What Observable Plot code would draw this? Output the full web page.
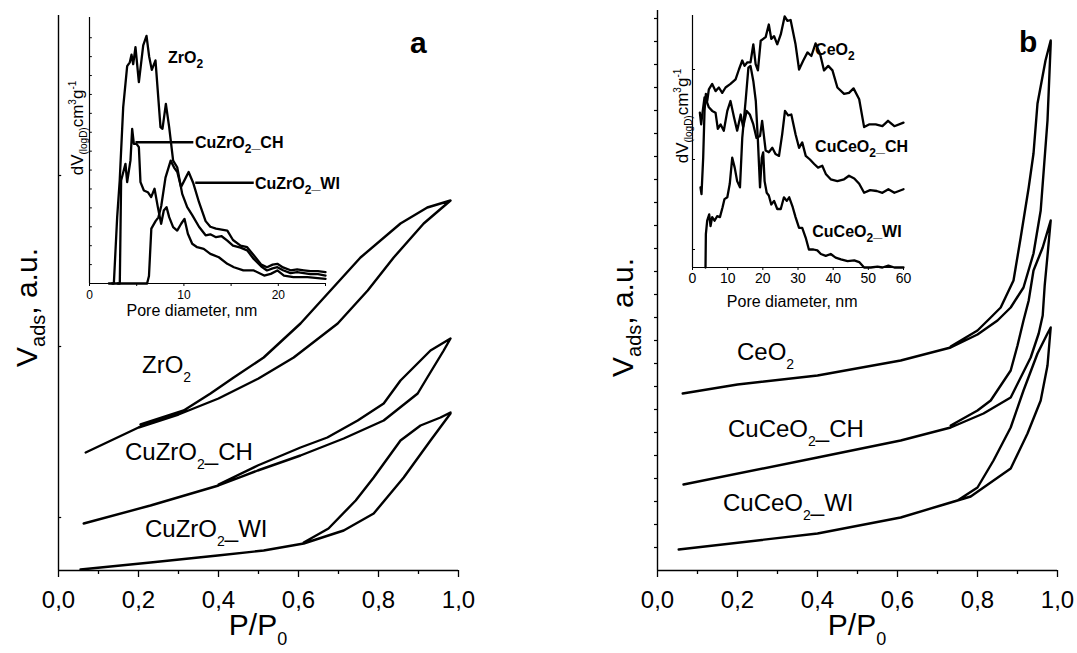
<!DOCTYPE html>
<html><head><meta charset="utf-8">
<script src="https://cdn.jsdelivr.net/npm/d3@7"></script>
<script src="https://cdn.jsdelivr.net/npm/@observablehq/plot@0.6"></script>
<style>
body{margin:0;background:#fff;}
#root{position:relative;width:1077px;height:653px;overflow:hidden;background:#fff;}
</style></head><body><div id="root"></div>
<script>
const FONT = '"Liberation Sans", Arial, Helvetica, sans-serif';

// ---------------- Panel a: N2 isotherms, [P/P0, V (a.u.)] ----------------
const zro2Adsorption = [[0.068,118],[0.2,143],[0.3,156],[0.4,172],[0.5,192],[0.588,213],[0.698,247],[0.773,280],[0.838,313],[0.913,347],[0.98,370]];
const zro2Desorption = [[0.98,370],[0.922,363],[0.855,347],[0.755,313],[0.68,280],[0.605,247],[0.513,213],[0.438,193],[0.38,177],[0.313,160],[0.205,146]];
const cuZrCHAdsorption = [[0.063,47],[0.23,65],[0.4,85],[0.498,100],[0.605,115],[0.713,132],[0.813,150],[0.898,177],[0.922,193],[0.963,220],[0.98,232]];
const cuZrCHDesorption = [[0.98,232],[0.93,220],[0.88,200],[0.855,190],[0.813,167],[0.748,150],[0.672,133],[0.605,123],[0.498,105],[0.4,86]];
const cuZrWIAdsorption = [[0.055,1],[0.23,8],[0.398,15],[0.513,20],[0.613,27],[0.713,40],[0.788,57],[0.863,93],[0.93,130],[0.98,157]];
const cuZrWIDesorption = [[0.98,158],[0.955,153],[0.905,145],[0.855,130],[0.788,93],[0.743,70],[0.675,42],[0.613,28]];

// ---------------- Panel b: N2 isotherms ----------------
const ceo2Adsorption = [[0.063,177],[0.2,186],[0.4,195],[0.608,210],[0.733,223],[0.8,236],[0.85,250],[0.883,263],[0.915,283],[0.94,317],[0.958,360],[0.975,450],[0.983,527]];
const ceo2Desorption = [[0.983,530],[0.97,510],[0.95,467],[0.94,417],[0.928,383],[0.908,333],[0.89,290],[0.858,263],[0.833,253],[0.8,240],[0.733,224]];
const cuCeCHAdsorption = [[0.065,86],[0.4,113],[0.608,130],[0.733,143],[0.815,157],[0.883,173],[0.933,213],[0.953,237],[0.963,255],[0.968,285],[0.975,315],[0.983,350]];
const cuCeCHDesorption = [[0.983,350],[0.963,323],[0.94,300],[0.928,270],[0.915,250],[0.9,225],[0.883,200],[0.833,170],[0.8,160],[0.733,145]];
const cuCeWIAdsorption = [[0.053,21],[0.4,37],[0.608,53],[0.708,65],[0.783,74],[0.883,102],[0.925,137],[0.958,170],[0.975,205],[0.983,243]];
const cuCeWIDesorption = [[0.983,243],[0.975,237],[0.95,217],[0.915,180],[0.883,143],[0.84,110],[0.8,83],[0.75,70],[0.708,65]];

// ---------------- Inset a: pore size distributions [D nm, dV(logD)] ----------------
const zro2Psd = [[2.05,0],[2.58,0],[2.93,3.5],[3.2,5.45],[3.57,9.33],[3.99,11.5],[4.27,11.7],[4.45,12.1],[4.63,11.6],[4.87,12.5],[5.23,10.65],[5.69,12.6],[6.04,13.1],[6.32,12.0],[6.6,11.3],[6.99,11.8],[7.52,8.27],[7.73,8.18],[8.09,9.5],[8.44,8.27],[8.86,6.5],[9.29,6.15],[9.82,4.74],[10.35,4.04],[10.9,3.6],[11.6,3.0],[12.3,2.55],[12.8,2.6],[13.4,2.45],[14.0,2.5],[14.6,2.27],[15.2,2.0],[16.0,1.9],[16.7,1.75],[17.4,1.3],[18.2,0.9],[18.8,0.69],[19.4,0.8],[19.9,0.86],[20.5,0.7],[21.3,0.55],[22.0,0.6],[22.7,0.55],[23.4,0.5],[24.2,0.5],[25,0.42]];
const cuZrCHPsd = [[3.0,0],[3.21,0],[3.35,5.45],[3.81,6.33],[3.99,5.36],[4.34,6.51],[4.52,8.18],[4.7,7.39],[4.98,7.39],[5.23,7.21],[5.4,5.36],[5.76,4.92],[6.18,4.83],[6.53,4.57],[6.89,5.01],[7.24,4.04],[7.59,3.16],[7.87,3.86],[8.16,4.04],[8.44,3.51],[8.86,2.98],[9.29,2.8],[9.71,3.16],[10.06,3.42],[10.42,2.63],[10.88,2.1],[11.4,1.92],[12.1,1.83],[12.8,1.57],[13.7,1.39],[14.6,1.04],[15.3,0.86],[16.3,0.69],[17.4,0.69],[18.5,0.42],[19.2,0.51],[19.9,0.69],[20.6,0.42],[21.6,0.34],[23.1,0.34],[25,0.25]];
const cuZrWIPsd = [[2.4,0],[6.1,0],[6.3,0.4],[6.55,2.9],[7.0,3.3],[7.3,3.5],[7.6,4.1],[8.05,5.6],[8.6,6.5],[9.0,6.1],[9.3,5.9],[9.7,5.1],[10.2,5.6],[10.5,5.9],[11.0,5.3],[11.6,4.3],[12.3,3.3],[12.8,3.0],[13.4,2.9],[14.0,2.85],[14.6,2.8],[15.2,2.3],[16.0,2.0],[16.7,1.92],[17.4,1.5],[18.2,1.0],[18.8,0.86],[19.4,1.0],[19.9,1.04],[20.5,0.85],[21.3,0.7],[22.0,0.75],[22.7,0.7],[23.4,0.65],[24.2,0.65],[25,0.6]];
const insetAPointers = [{series:"CH", d:[4.87,11.0], v:7.47},{series:"WI", d:[11.2,17.4], v:5.33}];

// ---------------- Inset b: pore size distributions ----------------
const ceo2Psd = [[2.28,8.89],[2.56,8.15],[3.04,12.2],[3.42,17.4],[3.8,19.3],[4.18,18.5],[4.65,19.8],[5.6,20.4],[6.55,19.6],[7.5,20.0],[8.45,19.4],[9.4,20.0],[10.8,20.4],[12.25,20.9],[13.2,22.0],[14.15,23.0],[14.8,22.4],[15.6,22.8],[16.5,22.8],[17.3,24.8],[17.95,22.6],[18.6,21.9],[19.4,25.2],[20.8,25.6],[21.7,27.0],[22.4,25.4],[23.2,25.7],[24.1,24.8],[25.1,25.9],[26.2,27.9],[27.0,27.4],[27.9,27.5],[29.3,24.8],[30.3,22.0],[31.5,23.0],[32.7,23.9],[33.8,23.5],[35.0,24.9],[36.3,23.7],[37.4,21.9],[38.6,22.4],[39.8,21.9],[41.2,20.0],[43.1,19.3],[44.5,19.4],[45.8,19.9],[47.4,18.7],[48.8,15.6],[50.2,15.9],[52.1,15.9],[54.0,15.7],[55.6,16.3],[57.4,15.7],[60.0,16.1]];
const cuCeCHPsd = [[2.09,17.2],[2.47,15.9],[2.85,17.2],[3.42,18.9],[3.99,18.5],[4.65,17.8],[5.6,17.4],[6.55,17.2],[7.2,15.4],[8.0,15.9],[8.9,15.2],[9.9,17.4],[10.8,18.5],[11.8,16.7],[12.7,15.2],[13.7,17.0],[14.4,15.6],[15.4,17.4],[16.3,17.0],[17.3,15.9],[18.2,14.4],[19.2,14.6],[19.8,16.3],[20.8,13.0],[21.7,12.8],[22.7,13.3],[23.6,12.6],[24.6,12.4],[25.5,14.8],[26.3,17.4],[27.2,16.9],[28.1,17.0],[29.3,14.8],[30.3,13.3],[31.2,13.9],[32.2,12.4],[33.4,12.0],[34.6,11.5],[35.7,11.1],[36.9,11.3],[37.9,10.4],[39.3,9.8],[41.2,9.6],[43.1,9.8],[44.5,10.2],[46.0,9.9],[47.4,9.3],[48.8,8.3],[50.5,8.6],[52.4,8.5],[54.0,8.3],[55.7,8.7],[57.4,8.3],[60.0,8.7]];
const cuCeWIPsd = [[3.7,0],[3.8,3.7],[4.18,5.2],[4.75,5.9],[5.13,4.6],[5.6,5.6],[6.27,5.2],[7.0,5.7],[7.8,5.6],[8.55,6.7],[9.1,7.6],[9.9,7.8],[10.6,9.3],[11.3,12.2],[12.0,11.1],[12.7,9.6],[13.5,8.9],[14.15,14.4],[15.1,18.5],[15.9,22.2],[16.5,22.4],[17.3,20.7],[18.0,18.5],[18.6,14.1],[19.2,8.9],[19.7,12.2],[20.1,12.8],[20.5,9.6],[21.1,8.3],[21.7,8.0],[22.4,7.0],[23.2,7.4],[24.1,6.5],[25.1,6.5],[26.0,7.8],[26.8,7.4],[27.5,7.8],[28.5,6.7],[29.3,5.6],[30.3,4.4],[31.2,4.4],[32.2,3.3],[33.1,2.0],[34.4,2.0],[35.5,1.9],[36.5,1.5],[37.9,1.3],[39.3,1.5],[40.7,1.1],[42.2,0.9],[44.1,0.7],[46.0,0.8],[47.4,0.6],[48.8,0],[50.7,0],[52.6,0.1],[54.0,0],[55.7,0.2],[57.4,0],[60.0,0]];

// ---------------- ticks ----------------
const pressureTicks = [0, 0.2, 0.4, 0.6, 0.8, 1.0];
const pressureMinorTicks = [0.1, 0.3, 0.5, 0.7, 0.9];
const panelAVolumeTicks = [53, 224, 395];
const panelBVolumeTicks = [23,46,69,92,115,138,161,184,207,230,253,276,299,322,345,368,391,414,437,460,483,506,529,552];
const poreTicksA = [0, 10, 20];
const poreMinorTicksA = [5, 15, 25];
const poreTicksB = [0, 10, 20, 30, 40, 50, 60];
const psdTicksA = [1,2,3,4,5,6,7,8,9,10,11,12,13];
const psdTicksB = [2, 12, 22];

// ---------------- labels (anchored in data coordinates) ----------------
const panelALabels = [
  {x:0.21, y:197, parts:["ZrO",["2","sub"]]},
  {x:0.1675, y:110, parts:["CuZrO",["2","sub"],"_CH"]},
  {x:0.2175, y:33, parts:["CuZrO",["2","sub"],"_WI"]}
];
const panelBLabels = [
  {x:0.2, y:210, parts:["CeO",["2","sub"]]},
  {x:0.1775, y:133, parts:["CuCeO",["2","sub"],"_CH"]},
  {x:0.165, y:59, parts:["CuCeO",["2","sub"],"_WI"]}
];
const insetALabels = [
  {x:8.37, y:11.64, parts:["ZrO",["2","sub"]]},
  {x:11.23, y:7.14, parts:["CuZrO",["2","sub"],"_CH"]},
  {x:17.58, y:4.97, parts:["CuZrO",["2","sub"],"_WI"]}
];
const insetBLabels = [
  {x:35.0, y:23.6, parts:["CeO",["2","sub"]]},
  {x:35.0, y:12.8, parts:["CuCeO",["2","sub"],"_CH"]},
  {x:34.2, y:3.33, parts:["CuCeO",["2","sub"],"_WI"]}
];

// ---------------- helpers ----------------
const root = document.getElementById("root");
function rows(name, ...segs) {
  return segs.flat().map(([x, y]) => ({series: name, x, y}));
}
function rich(svg, x, y, parts, o) {
  const t = d3.select(svg).append("text")
    .attr("x", x).attr("y", y)
    .attr("font-family", FONT).attr("font-size", o.size)
    .attr("font-weight", o.weight || "normal")
    .attr("text-anchor", o.anchor || "start").attr("fill", "black");
  if (o.rotate) t.attr("transform", `rotate(-90 ${x} ${y})`);
  let cur = 0;
  for (const p of parts) {
    const [txt, kind] = Array.isArray(p) ? p : [p, null];
    const shift = kind === "sub" ? o.sub : kind === "sup" ? -o.sup : 0;
    t.append("tspan").attr("dy", shift - cur)
      .attr("font-size", kind ? o.small : o.size).text(txt);
    cur = shift;
  }
}
function place(svg, left) {
  svg.style.position = "absolute";
  svg.style.left = left + "px";
  svg.style.top = "0px";
  svg.style.maxWidth = "none";
  root.appendChild(svg);
}
const commaFmt = d => d.toFixed(1).replace(".", ",");

function mainPanel(cfg) {
  const chart = Plot.plot({
    width: cfg.width, height: 653,
    marginLeft: cfg.ml, marginRight: cfg.mr, marginTop: cfg.mt, marginBottom: 83,
    x: {domain: [0, 1], label: null},
    y: {domain: [0, cfg.ymax], axis: null, label: null},
    style: {background: "transparent", fontFamily: FONT, fontSize: "24px", color: "black", overflow: "visible"},
    marks: [
      Plot.axisX({ticks: pressureTicks, tickSize: 7, tickPadding: 13, tickFormat: commaFmt, fontSize: 24, strokeWidth: 1.3, label: null}),
      Plot.axisX({ticks: pressureMinorTicks, tickSize: 4, tickFormat: () => "", strokeWidth: 1.3, label: null}),
      Plot.ruleY(cfg.yticks, {x1: cfg.tickX1, x2: cfg.tickX2, strokeWidth: 1.2}),
      Plot.ruleX([0], {strokeWidth: 1.4}),
      Plot.ruleY([0], {strokeWidth: 1.4}),
      Plot.line(cfg.data, {x: "x", y: "y", z: "series", stroke: "black", strokeWidth: 2.4, strokeLinejoin: "round"})
    ]
  });
  const sx = chart.scale("x"), sy = chart.scale("y");
  for (const l of cfg.labels)
    rich(chart, sx.apply(l.x), sy.apply(l.y), l.parts, {size: 24, small: 14, sub: 9});
  rich(chart, sx.apply(cfg.letter.x), sy.apply(cfg.letter.y), [cfg.letter.t], {size: 30, weight: "bold"});
  const x0 = sx.apply(0), x1 = sx.apply(1);
  rich(chart, (x0 + x1) / 2, 635, ["P/P", ["0", "sub"]], {size: 30, small: 18, sub: 10, anchor: "middle"});
  rich(chart, x0 - cfg.titleDx, cfg.titleY, ["V", ["ads", "sub"], ", a.u."], {size: 30, small: 20, sub: 8, rotate: true});
  place(chart, cfg.left);
}

function insetPanel(cfg) {
  const chart = Plot.plot({
    width: cfg.width, height: 330,
    marginLeft: cfg.ml, marginRight: cfg.mr, marginTop: cfg.mt, marginBottom: 330 - cfg.bottom,
    x: {domain: cfg.xdomain, label: null},
    y: {domain: cfg.ydomain, axis: null, label: null},
    style: {background: "transparent", fontFamily: FONT, fontSize: cfg.tickFont + "px", color: "black", overflow: "visible"},
    marks: [
      Plot.axisX({ticks: cfg.xticks, tickSize: 3, tickPadding: cfg.tickPad, fontSize: cfg.tickFont, strokeWidth: 1, label: null}),
      cfg.xminor ? Plot.axisX({ticks: cfg.xminor, tickSize: 3, tickFormat: () => "", strokeWidth: 1, label: null}) : null,
      Plot.ruleY(cfg.yticks, {x1: 0, x2: cfg.ytickLen, strokeWidth: 1}),
      Plot.ruleX([0], {strokeWidth: 1.2}),
      Plot.ruleY([0], {strokeWidth: 1.2}),
      cfg.pointers ? Plot.link(cfg.pointers, {x1: d => d.d[0], x2: d => d.d[1], y1: "v", y2: "v", stroke: "black", strokeWidth: 2.4}) : null,
      Plot.line(cfg.data, {x: "x", y: "y", z: "series", stroke: "black", strokeWidth: 2.3, strokeLinejoin: "round"})
    ]
  });
  const sx = chart.scale("x"), sy = chart.scale("y");
  for (const l of cfg.labels)
    rich(chart, sx.apply(l.x), sy.apply(l.y), l.parts, {size: 16, small: 12, sub: 5, weight: "bold"});
  rich(chart, sx.apply(cfg.xtitleAt), cfg.bottom + cfg.xtitleDy, ["Pore diameter, nm"], {size: 16, anchor: "middle"});
  rich(chart, cfg.ml - cfg.ytitleDx, cfg.ytitleY,
    ["dV", ["(logD)", "sub"], "cm", ["3", "sup"], "g", ["-1", "sup"]],
    {size: 17, small: 10, sub: 4, sup: 7, anchor: "middle", rotate: true});
  place(chart, cfg.left);
}

// ---------------- draw ----------------
mainPanel({
  left: 0, width: 540, ml: 58, mr: 82, mt: 15, ymax: 555,
  yticks: panelAVolumeTicks, tickX1: 0, tickX2: 0.008,
  data: [...rows("ZrO2", zro2Adsorption, zro2Desorption), ...rows("CuZrO2_CH", cuZrCHAdsorption, cuZrCHDesorption), ...rows("CuZrO2_WI", cuZrWIAdsorption, cuZrWIDesorption)],
  labels: panelALabels, letter: {x: 0.88, y: 517, t: "a"},
  titleDx: 21, titleY: 367
});
mainPanel({
  left: 540, width: 537, ml: 117, mr: 20, mt: 10, ymax: 560,
  yticks: panelBVolumeTicks, tickX1: -0.0075, tickX2: 0,
  data: [...rows("CeO2", ceo2Adsorption, ceo2Desorption), ...rows("CuCeO2_CH", cuCeCHAdsorption, cuCeCHDesorption), ...rows("CuCeO2_WI", cuCeWIAdsorption, cuCeWIDesorption)],
  labels: panelBLabels, letter: {x: 0.905, y: 518, t: "b"},
  titleDx: 24, titleY: 377
});
insetPanel({
  left: 30, width: 310, ml: 59, mr: 15, mt: 17, bottom: 283,
  xdomain: [0, 25], ydomain: [0, 14.07],
  xticks: poreTicksA, xminor: poreMinorTicksA, tickFont: 12, tickPad: 4,
  yticks: psdTicksA, ytickLen: 0.3,
  pointers: insetAPointers,
  data: [...rows("ZrO2", zro2Psd), ...rows("CuZrO2_CH", cuZrCHPsd), ...rows("CuZrO2_WI", cuZrWIPsd)],
  labels: insetALabels, xtitleAt: 10.9, xtitleDy: 33, ytitleDx: 6, ytitleY: 128
});
insetPanel({
  left: 640, width: 280, ml: 52, mr: 17, mt: 15, bottom: 267,
  xdomain: [0, 60], ydomain: [0, 28],
  xticks: poreTicksB, xminor: null, tickFont: 14, tickPad: 3,
  yticks: psdTicksB, ytickLen: 0.85,
  pointers: null,
  data: [...rows("CeO2", ceo2Psd), ...rows("CuCeO2_CH", cuCeCHPsd), ...rows("CuCeO2_WI", cuCeWIPsd)],
  labels: insetBLabels, xtitleAt: 28.5, xtitleDy: 40, ytitleDx: 4, ytitleY: 116
});
</script></body></html>
